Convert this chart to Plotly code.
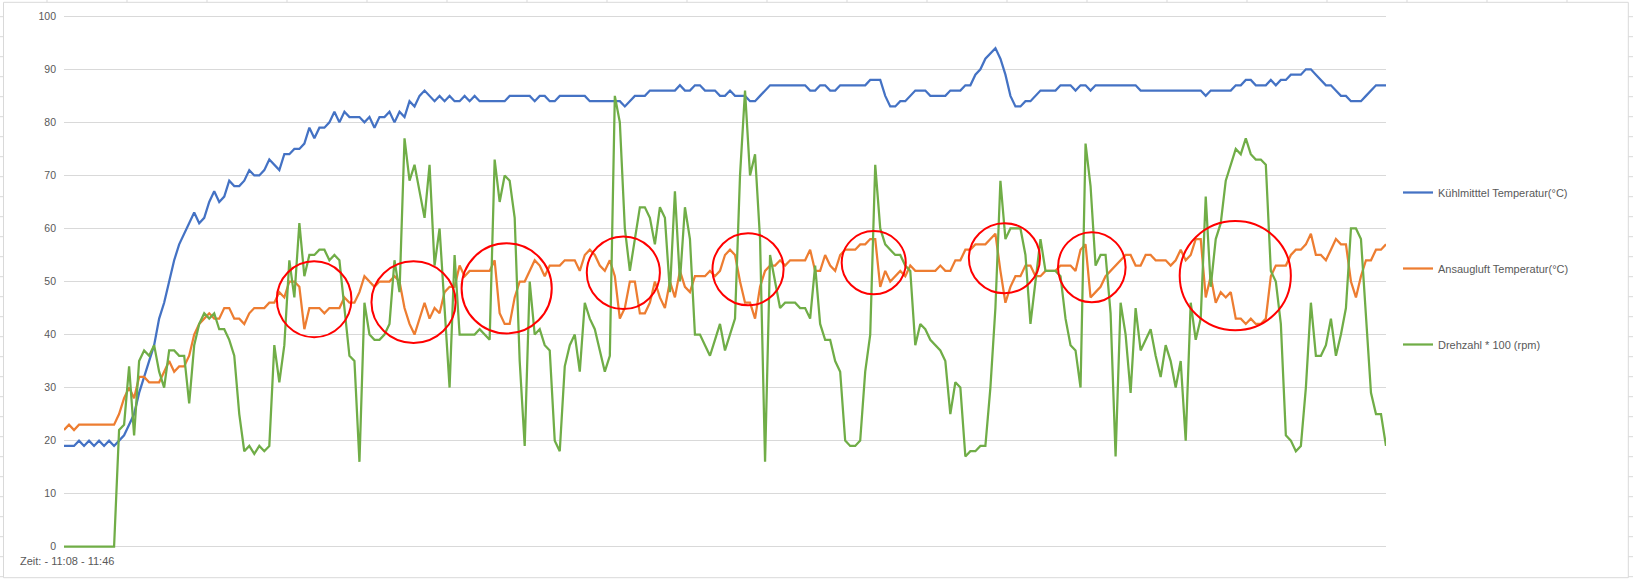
import plotly.graph_objects as go

# ---------------- data ----------------
series_names = ["Kühlmitttel Temperatur(°C)", "Ansaugluft Temperatur(°C)", "Drehzahl * 100 (rpm)"]

kuehlmittel = [
    19,19,19,20,19,20,19,20,19,20,
    19,20,21,23,25,29,32,35,38,43,
    46,50,54,57,59,61,63,61,62,65,
    67,65,66,69,68,68,69,71,70,70,
    71,73,72,71,74,74,75,75,76,79,
    77,79,79,80,82,80,82,81,81,81,
    80,81,79,81,81,82,80,82,81,84,
    83,85,86,85,84,85,84,85,84,84,
    85,84,85,84,84,84,84,84,84,85,
    85,85,85,85,84,85,85,84,84,85,
    85,85,85,85,85,84,84,84,84,84,
    84,84,83,84,85,85,85,86,86,86,
    86,86,86,87,86,86,87,87,86,86,
    86,85,85,86,85,85,85,84,84,85,
    86,87,87,87,87,87,87,87,87,86,
    86,87,87,86,86,87,87,87,87,87,
    87,88,88,88,85,83,83,84,84,85,
    86,86,86,85,85,85,85,86,86,86,
    87,87,89,90,92,93,94,92,89,85,
    83,83,84,84,85,86,86,86,86,87,
    87,87,86,87,87,86,87,87,87,87,
    87,87,87,87,87,86,86,86,86,86,
    86,86,86,86,86,86,86,86,85,86,
    86,86,86,86,87,87,88,88,87,87,
    87,88,87,88,88,89,89,89,90,90,
    89,88,87,87,86,85,85,84,84,84,
    85,86,87,87,87,
]

ansaugluft = [
    22,23,22,23,23,23,23,23,23,23,
    23,25,28,30,28,32,32,31,31,31,
    33,35,33,34,34,36,40,42,43,44,
    43,43,45,45,43,43,42,44,45,45,
    45,46,46,48,47,50,50,49,41,45,
    45,45,44,45,45,45,47,46,46,48,
    51,50,49,50,50,50,51,50,45,42,
    40,43,46,43,45,44,48,49,49,53,
    51,52,52,52,52,52,54,44,42,42,
    47,50,50,52,54,53,51,53,53,53,
    54,54,54,52,55,56,55,53,52,54,
    51,43,45,50,50,44,44,46,50,47,
    45,50,47,52,49,48,51,51,51,52,
    51,52,55,56,55,50,46,46,43,49,
    52,53,53,54,53,54,54,54,54,56,
    52,52,55,53,52,55,56,56,56,57,
    57,58,58,49,52,50,51,52,51,53,
    52,52,52,52,52,53,52,52,54,54,
    56,56,57,57,57,58,59,52,46,49,
    51,51,53,53,51,51,52,52,52,53,
    53,53,52,56,57,47,48,49,51,52,
    53,54,55,55,53,53,55,55,54,54,
    54,53,54,56,54,55,58,58,47,51,
    46,48,47,48,43,43,42,43,42,42,
    43,51,53,53,53,55,56,56,57,59,
    55,55,54,56,58,57,57,50,47,51,
    54,54,56,56,57,
]

drehzahl = [
    0,0,0,0,0,0,0,0,0,0,
    0,22,23,34,21,35,37,36,38,33,
    30,37,37,36,36,27,38,42,44,43,
    44,41,41,39,36,25,18,19,17.5,19,
    18,19,38,31,38,54,47,61,51,55,
    55,56,56,54,55,54,45,36,35,16,
    46,40,39,39,40,42,54,48,77,69,
    72,67,62,72,53,60,46,30,55,40,
    40,40,40,41,40,39,73,65,70,69,
    62,35,19,50,40,41,38,37,20,18,
    34,38,40,33,46,43,41,37,33,36,
    85,80,60,52,58,64,64,62,57,64,
    62,48,67,50,64,58,40,40,38,36,
    39,42,37,40,43,70,86,70,74,58,
    16,55,50,45,46,46,46,45,45,43,
    53,42,39,39,35,33,20,19,19,20,
    33,40,72,60,57,56,55,55,53,52,
    38,42,41,39,38,37,35,25,31,30,
    17,18,18,19,19,30,45,69,58,60,
    60,60,55,42,50,58,52,52,52,51,
    43,38,37,30,76,68,53,55,55,44,
    17,46,40,29,45,37,39,41,36,32,
    38,35,30,35,20,46,39,43,66,49,
    58,61,69,72,75,74,77,74,73,73,
    72,52,50,42,21,20,18,19,30,46,
    36,36,38,43,36,40,45,60,60,58,
    43,29,25,25,19,
]

y_ticks = list(range(0, 101, 10))
x_label = "Zeit: - 11:08 - 11:46"

# red hand-drawn circles (annotation overlay): x0, x1 (sample index), y0, y1 (value)
circles = [
    (42.5, 57.4, 39.5, 53.8),
    (61.4, 78.2, 38.4, 53.8),
    (79.4, 97.4, 40.2, 57.2),
    (104.4, 119.0, 44.8, 58.5),
    (129.5, 143.7, 45.5, 59.1),
    (155.3, 168.1, 47.6, 59.5),
    (180.7, 194.9, 47.8, 61.0),
    (198.5, 212.0, 46.1, 59.3),
    (222.8, 245.0, 40.8, 61.4),
]

assert len(kuehlmittel) == len(ansaugluft) == len(drehzahl)
x = list(range(len(kuehlmittel)))

# ---------------- figure ----------------
W, H = 1633, 579
ML, MR, MT, MB = 64, 247, 11, 27
PW, PH = W - ML - MR, H - MT - MB


def px(X):
    return (X - ML) / PW


def py(Y):
    return 1 - (Y - MT) / PH


colors = ["#4472C4", "#ED7D31", "#70AD47"]
fig = go.Figure()
for name, vals, col, grp in zip(series_names, [kuehlmittel, ansaugluft, drehzahl], colors, ["a", "b", "c"]):
    fig.add_trace(go.Scatter(x=x, y=vals, mode="lines", name=name, legendgroup=grp,
                             line=dict(color=col, width=2.25), hoverinfo="skip"))

shapes = []
for (x0, x1, y0, y1) in circles:
    shapes.append(dict(type="circle", xref="x", yref="y", x0=x0, x1=x1, y0=y0, y1=y1,
                       line=dict(color="#FF0000", width=2), layer="above"))

# chart frame and spreadsheet cell lines around it
grey = "#D9D9D9"
shapes.append(dict(type="rect", xref="paper", yref="paper", x0=px(3.5), x1=px(1628.3),
                   y0=py(577.7), y1=py(2.3), line=dict(color=grey, width=1), layer="below"))
for k in range(20):
    X = 47 + 80 * k
    shapes.append(dict(type="line", xref="paper", yref="paper", x0=px(X), x1=px(X),
                       y0=py(0), y1=py(2.3), line=dict(color=grey, width=1)))
for k in range(29):
    Y = 16.7 + 20 * k
    shapes.append(dict(type="line", xref="paper", yref="paper", x0=px(0), x1=px(3.5),
                       y0=py(Y), y1=py(Y), line=dict(color=grey, width=1)))
    shapes.append(dict(type="line", xref="paper", yref="paper", x0=px(1628.3), x1=px(1633),
                       y0=py(Y), y1=py(Y), line=dict(color=grey, width=1)))

font_family = "Liberation Sans, Arial, sans-serif"
fig.update_layout(
    width=W, height=H, autosize=False,
    margin=dict(l=ML, r=MR, t=MT, b=MB, pad=0),
    paper_bgcolor="white", plot_bgcolor="white",
    font=dict(family=font_family, size=11, color="#595959"),
    xaxis=dict(range=[0, len(x) - 1], showgrid=False, showticklabels=False, zeroline=False,
               showline=False, ticks="", fixedrange=True),
    yaxis=dict(range=[-1, 101], tickvals=y_ticks, ticktext=[str(v) for v in y_ticks],
               showgrid=True, gridcolor=grey, gridwidth=1, zeroline=False, showline=False,
               ticks="", ticklabelstandoff=7, tickfont=dict(size=10.5, color="#595959"),
               fixedrange=True),
    showlegend=True,
    legend=dict(x=px(1398), xanchor="left", y=py(178), yanchor="top",
                font=dict(size=11, color="#595959", family=font_family),
                tracegroupgap=57, bgcolor="rgba(0,0,0,0)", borderwidth=0,
                itemclick=False, itemdoubleclick=False),
    shapes=shapes,
    annotations=[dict(text=x_label, xref="paper", yref="paper", x=px(17.7), y=py(561.5),
                      xanchor="left", yanchor="middle", showarrow=False,
                      font=dict(size=11, color="#595959", family=font_family))],
)

fig.write_html(
    "out.html",
    config={"displayModeBar": False},
    post_script="document.body.style.margin='0px';document.body.style.padding='0px';document.body.style.overflow='hidden';",
)
